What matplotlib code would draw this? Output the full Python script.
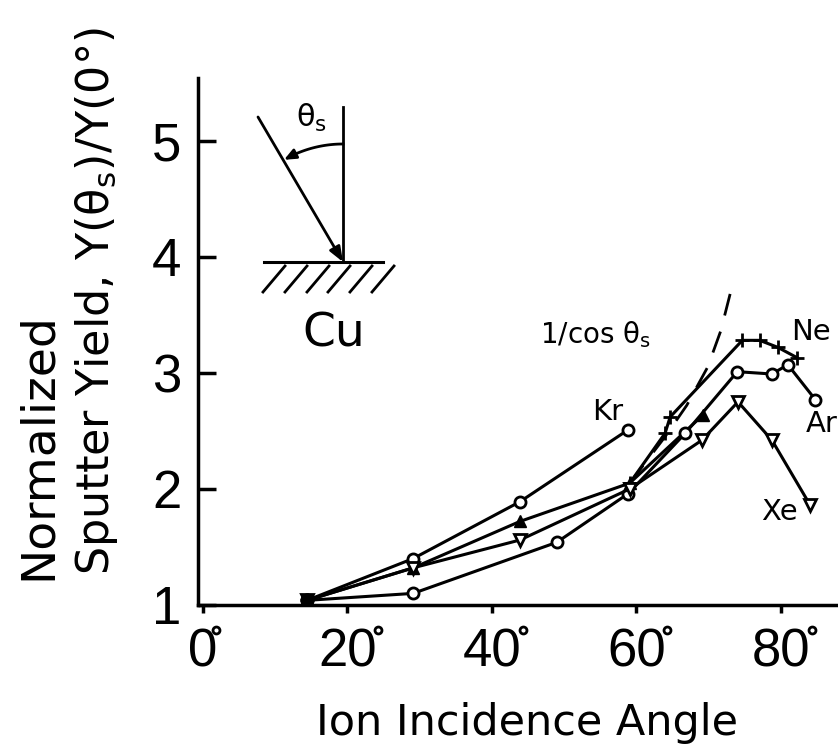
import numpy as np
import matplotlib.pyplot as plt
from matplotlib import transforms

plt.rcParams['font.family'] = 'DejaVu Sans'
plt.rcParams['mathtext.fontset'] = 'dejavusans'

# ion incidence angle (deg) and normalized sputter yield
kr_x = [14.4, 29.1, 43.9, 58.9]
kr_y = [1.04, 1.40, 1.89, 2.51]

tri_x = [14.4, 29.1, 43.9, 59.1, 69.3]
tri_y = [1.04, 1.32, 1.72, 2.05, 2.64]

ar_x = [14.4, 29.1, 49.0, 58.9, 66.8, 74.0, 78.8, 81.0, 84.8]
ar_y = [1.04, 1.10, 1.54, 1.96, 2.48, 3.01, 2.99, 3.07, 2.77]

ne_x = [59.1, 64.0, 64.7, 74.7, 77.1, 79.6, 82.3]
ne_y = [2.05, 2.48, 2.62, 3.28, 3.28, 3.22, 3.13]

xe_x = [14.4, 29.1, 43.9, 59.1, 69.1, 74.1, 78.8, 84.1]
xe_y = [1.04, 1.32, 1.56, 2.00, 2.42, 2.75, 2.42, 1.86]

# 1/cos curve as drawn (dashed)
cos_x = [59.1, 64.0, 67.0, 69.9, 71.7, 73.5]
cos_y = [2.05, 2.45, 2.72, 3.05, 3.36, 3.80]

xticks = [0, 20, 40, 60, 80]
yticks = [1, 2, 3, 4, 5]

fig = plt.figure(figsize=(8.38, 7.54), dpi=100)
ax = fig.add_axes([198/838, 149/754, 640/838, 527/754])
ax.set_xlim(-0.7, 87.95)
ax.set_ylim(1, 5.54)

for s in ['top', 'right']:
    ax.spines[s].set_visible(False)
for s in ['left', 'bottom']:
    ax.spines[s].set_linewidth(2.5)

ax.set_xticks(xticks)
ax.set_xticklabels([str(t) for t in xticks])
ax.set_yticks(yticks)
ax.set_yticklabels([str(t) for t in yticks])
ax.tick_params(axis='x', direction='out', length=6, width=2.5, pad=10, labelsize=38)
ax.tick_params(axis='y', direction='in', length=13, width=2.5, pad=12, labelsize=38)
for lab in ax.get_xticklabels() + ax.get_yticklabels():
    lab.set_fontfamily(['Liberation Sans', 'DejaVu Sans'])

# degree rings next to the x tick numbers
for t in xticks:
    off = 13 if t < 10 else 31
    tr = transforms.offset_copy(ax.get_xaxis_transform(), fig=fig, x=off, y=-25, units='dots')
    ax.plot([t], [0], 'o', ms=5, mfc='white', mec='k', mew=2, transform=tr, clip_on=False)

lw = 2.2
ax.plot(kr_x, kr_y, 'k-', lw=lw, marker='o', ms=8, mfc='white', mec='k', mew=2)
ax.plot(tri_x, tri_y, 'k-', lw=lw, marker='^', ms=8, mfc='k', mec='k')
ax.plot(ar_x, ar_y, 'k-', lw=lw, marker='o', ms=8, mfc='white', mec='k', mew=2)
ax.plot(ne_x, ne_y, 'k-', lw=lw, marker='+', ms=10, mec='k', mew=2)
ax.plot(xe_x, xe_y, 'k-', lw=lw, marker='v', ms=8, mfc='white', mec='k', mew=2)
ax.plot(cos_x, cos_y, 'k', lw=2, dashes=(8, 6))
ax.plot(kr_x[0], kr_y[0], 'o', ms=9, color='k')

ax.text(56.1, 2.66, 'Kr', fontsize=21, ha='center', va='center')
ax.text(84.2, 3.35, 'Ne', fontsize=21, ha='center', va='center')
ax.text(85.7, 2.56, 'Ar', fontsize=21, ha='center', va='center')
ax.text(79.9, 1.80, 'Xe', fontsize=21, ha='center', va='center')
ax.text(54.4, 3.33, '1/cos θ$_\\mathrm{s}$', fontsize=20, ha='center', va='center')

# axis titles
fig.text(38/838, 1 - 580/754, 'Normalized', rotation=90, ha='center', va='bottom', fontsize=34)
fig.text(97/838, 1 - 575/754, 'Sputter Yield, Y(θ$_\\mathrm{s}$)/Y(0°)', rotation=90,
         ha='center', va='bottom', fontsize=32)
fig.text(527/838, 1 - 735/754, 'Ion Incidence Angle', ha='center', va='baseline', fontsize=31)

# inset sketch of the geometry, in pixel coordinates
ov = fig.add_axes([0, 0, 1, 1])
ov.set_xlim(0, 838)
ov.set_ylim(754, 0)
ov.axis('off')
ov.patch.set_visible(False)

ov.plot([343, 343], [107, 262], 'k', lw=2)
ov.plot([264, 383], [262, 262], 'k', lw=2.2)
for x0 in [263, 285, 307, 328, 350, 372]:
    ov.plot([x0, x0 + 22], [292, 266], 'k', lw=2)
ov.annotate('', xy=(343, 262), xytext=(258, 117),
            arrowprops=dict(arrowstyle='-|>,head_length=0.9,head_width=0.35', color='k', lw=2,
                            shrinkA=0, shrinkB=0))
a = np.radians(np.linspace(0, 27, 30))
r = 118
arc_x = 343 - r * np.sin(a)
arc_y = 262 - r * np.cos(a)
ov.plot(arc_x, arc_y, 'k', lw=2)
ov.annotate('', xy=(343 - r * np.sin(np.radians(30)), 262 - r * np.cos(np.radians(30))),
            xytext=(arc_x[-3], arc_y[-3]),
            arrowprops=dict(arrowstyle='-|>,head_length=0.7,head_width=0.3', color='k', lw=2,
                            shrinkA=0, shrinkB=0))
ov.text(312, 118, 'θ$_\\mathrm{s}$', fontsize=22, ha='center', va='center')
ov.text(334, 334, 'Cu', fontsize=34, ha='center', va='center')

fig.savefig('out.png', dpi=100)
